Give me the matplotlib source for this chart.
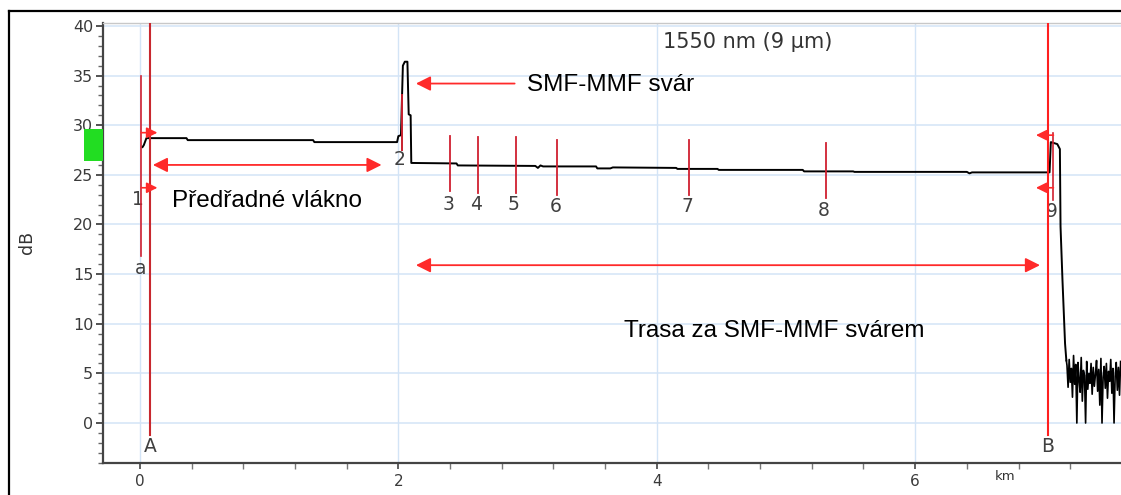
import numpy as np
import matplotlib.pyplot as plt
from matplotlib.lines import Line2D
from matplotlib.patches import Rectangle

# OTDR trace (km, dB)
trace_km = [0.02, 0.03, 0.05, 0.36, 0.37, 1.34, 1.35, 1.99, 2.00, 2.02, 2.035,
            2.05, 2.07, 2.08, 2.095, 2.10, 2.45, 2.46, 3.06, 3.08, 3.10, 3.12,
            3.53, 3.54, 3.64, 3.66, 4.15, 4.16, 4.47, 4.48, 5.13, 5.14, 5.52,
            5.53, 6.40, 6.42, 6.44, 7.04, 7.05, 7.10, 7.12, 7.125, 7.14, 7.16,
            7.17]
trace_db = [27.8, 28.0, 28.7, 28.7, 28.5, 28.5, 28.3, 28.3, 28.9, 29.0, 36.0,
            36.4, 36.4, 31.1, 31.0, 26.2, 26.15, 25.95, 25.9, 25.7, 25.95, 25.85,
            25.85, 25.65, 25.65, 25.75, 25.7, 25.6, 25.6, 25.5, 25.5, 25.35, 25.35,
            25.3, 25.3, 25.15, 25.25, 25.25, 28.3, 28.1, 27.6, 19.8, 14.4, 8.0,
            6.3]
# noise floor after the fibre end
noise_db = [5.8, 3.6, 6.4, 4.1, 5.5, 2.6, 6.8, 3.9, 5.9, 0.0, 6.1, 4.4, 3.1,
            6.6, 2.2, 5.3, 4.8, 0.0, 6.2, 3.4, 5.0, 4.0, 6.0, 2.9, 5.6, 3.7,
            4.9, 6.3, 3.2, 5.4, 1.8, 6.5, 0.0, 4.6, 5.7, 3.5, 6.0, 2.5, 5.2,
            4.2, 6.4, 3.0, 5.5, 0.0, 4.7, 6.1, 3.3, 5.6, 2.8, 6.2]
noise_km = np.linspace(7.175, 7.59, len(noise_db))

# event markers 3..8
event_labels = ["3", "4", "5", "6", "7", "8"]
event_km = [2.40, 2.62, 2.91, 3.23, 4.25, 5.31]
event_top = [28.9, 28.8, 28.8, 28.5, 28.5, 28.2]
event_bot = [23.4, 23.2, 23.2, 23.0, 23.0, 22.7]
event_label_db = [22.0, 22.0, 22.0, 21.8, 21.8, 21.4]

cursor_labels = ["A", "B"]
cursor_km = [0.077, 7.025]
cursor_colors = ["#c8282e", "#ff1f1f"]

fig = plt.figure(figsize=(11.21, 4.95), dpi=100)
ax = fig.add_axes([103 / 1121, 1 - 463 / 495, 1 - 103 / 1121, (463 - 23) / 495])
ax.set_xlim(-0.286, 7.593)
ax.set_ylim(-4.03, 40.3)

grid_c = "#d3e4f6"
for y in range(0, 41, 5):
    ax.axhline(y, color=grid_c, lw=1.1, zorder=0)
for x in [0, 2, 4, 6]:
    ax.axvline(x, color=grid_c, lw=1.0, zorder=0)

ax.plot(trace_km, trace_db, color="black", lw=1.4, zorder=3)
ax.plot(np.concatenate([[trace_km[-1]], noise_km]), np.concatenate([[trace_db[-1]], noise_db]),
        color="black", lw=1.2, zorder=3)

red = "#ff2a2a"
lab_c = "#404040"
lab_fs = 13.5

# cursors A / B
for lab, x, c in zip(cursor_labels, cursor_km, cursor_colors):
    ax.plot([x, x], [-1.2, 40.3], color=c, lw=1.5, zorder=4)
    ax.text(x, -2.4, lab, ha="center", va="center", fontsize=lab_fs, color=lab_c)

# marker a with launch arrows (1)
ax.plot([0.008, 0.008], [16.8, 35.0], color="#d02030", lw=1.2, zorder=4)
ax.text(0.008, 15.6, "a", ha="center", va="center", fontsize=lab_fs, color=lab_c)
for y in [29.25, 23.7]:
    ax.annotate("", xy=(0.135, y), xytext=(0.008, y),
                arrowprops=dict(arrowstyle="-|>", color=red, lw=1.2,
                                mutation_scale=16, shrinkA=0, shrinkB=0), zorder=5)
ax.text(-0.015, 22.5, "1", ha="center", va="center", fontsize=lab_fs, color=lab_c)

# marker 2 at the splice
ax.plot([2.03, 2.03], [27.5, 33.0], color="#c8202e", lw=1.4, zorder=4)
ax.text(2.01, 26.5, "2", ha="center", va="center", fontsize=lab_fs, color=lab_c)

# markers 3..8
for lab, x, t, b, ly in zip(event_labels, event_km, event_top, event_bot, event_label_db):
    ax.plot([x, x], [b, t], color="#d02030", lw=1.3, zorder=4)
    ax.text(x - 0.015, ly, lab, ha="center", va="center", fontsize=lab_fs, color=lab_c)

# marker 9 at the end
ax.plot([7.07, 7.07], [22.5, 29.2], color="#d02030", lw=1.2, zorder=4)
for y in [29.0, 23.7]:
    ax.annotate("", xy=(6.935, y), xytext=(7.07, y),
                arrowprops=dict(arrowstyle="-|>", color=red, lw=1.2,
                                mutation_scale=16, shrinkA=0, shrinkB=0), zorder=5)
ax.text(7.056, 21.3, "9", ha="center", va="center", fontsize=lab_fs, color=lab_c)

# annotations
ann_font = dict(family=["Liberation Sans", "DejaVu Sans"], fontsize=17.5, color="black")
ax.annotate("", xy=(2.136, 34.2), xytext=(2.90, 34.2),
            arrowprops=dict(arrowstyle="-|>", color=red, lw=1.3,
                            mutation_scale=22, shrinkA=0, shrinkB=0))
ax.text(2.995, 33.4, "SMF-MMF svár", ha="left", va="baseline", **ann_font)

ax.annotate("", xy=(0.10, 26.0), xytext=(1.87, 26.0),
            arrowprops=dict(arrowstyle="<|-|>", color=red, lw=1.3,
                            mutation_scale=22, shrinkA=0, shrinkB=0))
ax.text(0.245, 21.8, "Předřadné vlákno", ha="left", va="baseline", **ann_font)

ax.annotate("", xy=(2.136, 15.9), xytext=(6.966, 15.9),
            arrowprops=dict(arrowstyle="<|-|>", color=red, lw=1.3,
                            mutation_scale=22, shrinkA=0, shrinkB=0))
ax.text(3.75, 8.7, "Trasa za SMF-MMF svárem", ha="left", va="baseline", **ann_font)

ax.text(4.048, 37.74, "1550 nm (9 µm)", ha="left", va="baseline", fontsize=15,
        color="#333333")

# green level box left of the axis
ax.add_patch(Rectangle((-0.43, 26.4), 0.144, 3.2, facecolor="#22dd22",
                       edgecolor="none", clip_on=False, zorder=6))

# axes styling
ax.spines["right"].set_visible(False)
ax.spines["top"].set_color("#c8c8c8")
ax.spines["top"].set_linewidth(1.0)
for s in ["left", "bottom"]:
    ax.spines[s].set_color("#444444")
    ax.spines[s].set_linewidth(1.6)

ax.set_yticks(range(0, 41, 5))
ax.set_yticks(np.arange(-4, 41, 1), minor=True)
ax.set_xticks([0, 2, 4, 6])
ax.set_xticks(np.arange(0, 7.6, 0.4), minor=True)
ax.tick_params(axis="y", which="major", length=5, width=1.3, color="#444444",
               labelsize=11.5, labelcolor="#3a3a3a", pad=2)
ax.tick_params(axis="y", which="minor", length=3.5, width=1.0, color="#666666")
ax.tick_params(axis="x", which="major", length=4.5, width=1.2, color="#444444",
               labelsize=11, labelcolor="#3a3a3a", pad=3.5)
ax.tick_params(axis="x", which="minor", length=4, width=1.0, color="#777777")

fig.text(27 / 1121, 1 - 242 / 495, "dB", rotation=90, ha="center", va="center",
         fontsize=12.5, color="#333333")
fig.text(1005 / 1121, 1 - 476 / 495, "km", ha="center", va="center",
         fontsize=9.5, color="#333333")

# outer frame of the screenshot
fig.add_artist(Line2D([9 / 1121, 1.0], [1 - 11 / 495, 1 - 11 / 495],
                      transform=fig.transFigure, color="black", lw=1.6))
fig.add_artist(Line2D([9 / 1121, 9 / 1121], [0.0, 1 - 11 / 495],
                      transform=fig.transFigure, color="black", lw=1.6))

fig.savefig("out.png", dpi=100)
